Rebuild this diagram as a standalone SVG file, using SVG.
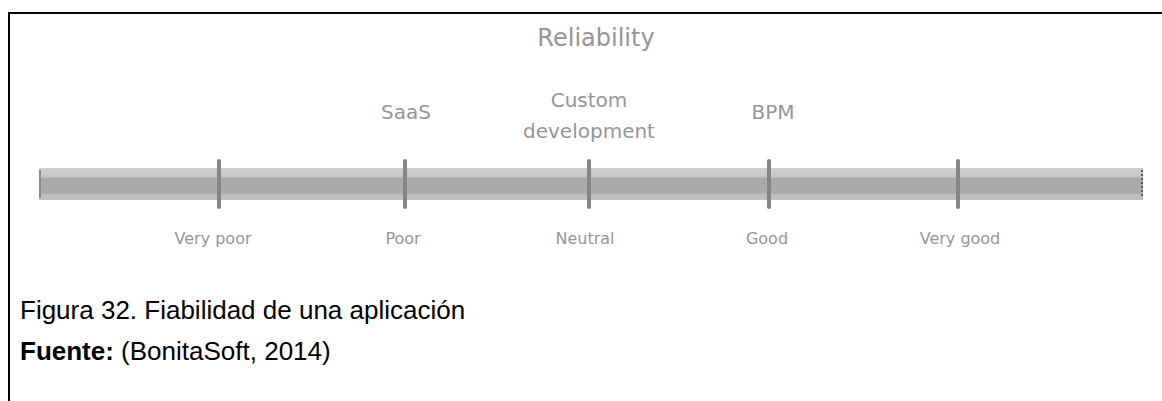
<svg xmlns="http://www.w3.org/2000/svg" width="1162" height="401" viewBox="0 0 1162 401">
  <style>
    .lbl { font-family: "DejaVu Sans", Verdana, sans-serif; fill: #959595; text-anchor: middle; }
    .title { font-size: 24px; }
    .top { font-size: 20px; }
    .bottom { font-size: 16px; }
    .cap { font-family: "Liberation Sans", Arial, sans-serif; font-size: 26px; fill: #000; }
    .tick { stroke: #858585; stroke-width: 4; stroke-linecap: round; }
  </style>
  <defs>
    <linearGradient id="barFill" x1="0" y1="0" x2="0" y2="1">
      <stop offset="0" stop-color="#d0d0d0"/>
      <stop offset="0.28" stop-color="#c6c6c6"/>
      <stop offset="0.32" stop-color="#a8a8a8"/>
      <stop offset="0.78" stop-color="#aaaaaa"/>
      <stop offset="0.82" stop-color="#bcbcbc"/>
      <stop offset="1" stop-color="#c2c2c2"/>
    </linearGradient>
  </defs>
  <rect width="1162" height="401" fill="#fff"/>

  <!-- frame: top and left rules -->
  <path d="M9 401 V13 H1162" fill="none" stroke="#000" stroke-width="2"/>

  <!-- scale bar -->
  <g id="scale">
    <rect x="39" y="168" width="1104" height="32" fill="url(#barFill)"/>
    <line x1="40" y1="170" x2="40" y2="198" stroke="#8a8a8a" stroke-width="2"/>
    <line x1="1142" y1="170" x2="1142" y2="198" stroke="#555" stroke-width="2" stroke-dasharray="2 2"/>
  </g>

  <!-- tick marks -->
  <g id="connectors">
    <line class="tick" x1="219" y1="161" x2="219" y2="207"/>
    <line class="tick" x1="405" y1="161" x2="405" y2="207"/>
    <line class="tick" x1="589" y1="161" x2="589" y2="207"/>
    <line class="tick" x1="769" y1="161" x2="769" y2="207"/>
    <line class="tick" x1="958" y1="161" x2="958" y2="207"/>
  </g>

  <g id="title"><text class="lbl title" x="596" y="46">Reliability</text></g>

  <g id="saas"><text class="lbl top" x="406" y="119">SaaS</text></g>
  <g id="custom">
    <text class="lbl top" x="589" y="107">Custom</text>
    <text class="lbl top" x="589" y="138">development</text>
  </g>
  <g id="bpm"><text class="lbl top" x="773" y="119">BPM</text></g>

  <g id="very-poor"><text class="lbl bottom" x="213" y="244">Very poor</text></g>
  <g id="poor"><text class="lbl bottom" x="403" y="244">Poor</text></g>
  <g id="neutral"><text class="lbl bottom" x="585" y="244">Neutral</text></g>
  <g id="good"><text class="lbl bottom" x="767" y="244">Good</text></g>
  <g id="very-good"><text class="lbl bottom" x="960" y="244">Very good</text></g>

  <!-- caption -->
  <text class="cap" x="20" y="319">Figura 32. Fiabilidad de una aplicación</text>
  <text class="cap" x="20" y="360"><tspan font-weight="bold">Fuente:</tspan> (BonitaSoft, 2014)</text>
</svg>
